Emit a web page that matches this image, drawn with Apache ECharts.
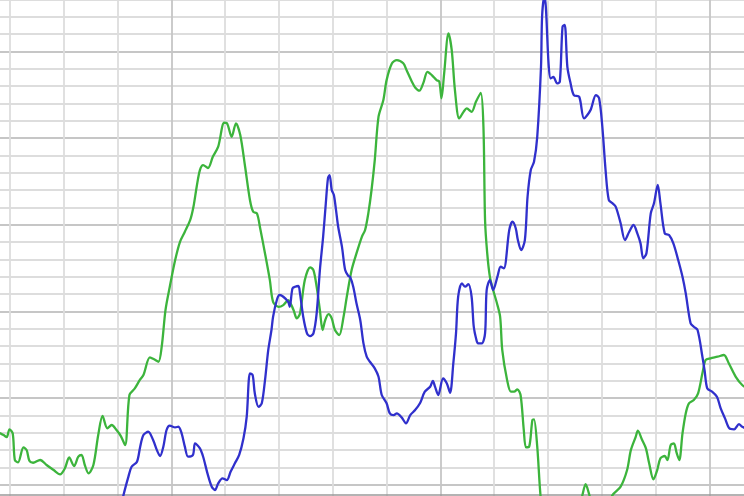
<!DOCTYPE html>
<html>
<head>
<meta charset="utf-8">
<script src="https://cdn.jsdelivr.net/npm/echarts@6/dist/echarts.min.js"></script>
<style>html,body{margin:0;padding:0;background:#fff}#c{width:744px;height:496px}</style>
</head>
<body>
<div id="c"></div>
<script>
// Green series: x positions and values
const greenX = [8.1,8.8,9.4,9.9,10.5,10.9,11.5,12.5,13.1,13.6,14.3,15.6,16.8,18.1,19.3,20.2,21.0,21.9,22.7,23.3,23.9,24.6,25.5,26.4,27.2,28.1,28.9,29.8,30.6,31.4,32.2,33.2,34.2,34.8,36.0,36.8,37.6,38.2,38.9,39.7,40.7,41.6,42.5,43.5,44.1,44.7,45.3,45.9,46.8,47.7,48.7,49.8,50.3,51.2,52.0,52.8,53.7,54.6,55.2,55.9,56.5,57.4,58.3,58.9,59.9,60.8,61.7,62.7,63.3,63.9,64.8,65.8,66.4,67.0,67.6,68.1,68.6,69.2,69.8,70.4,71.2,72.0,72.6,73.5,74.4,75.4,76.0,76.6,77.2,77.8,78.5,79.4,80.0,81.0,81.9,83.1,83.7,84.7,85.3,86.1,86.8,87.6,88.4,89.3,89.8,90.2,90.7,91.5,92.1,92.7,93.5,94.3,94.9,95.8,96.6,97.5,98.0,98.3,98.7,99.2,99.8,100.5,101.1,101.5,102.4,103.1,103.7,104.3,104.9,105.5,105.9,106.5,107.1,107.4,108.0,108.6,109.4,112.2,115.6,116.4,117.0,117.6,118.7,121.1,122.0,123.5,124.7,125.4,126.3,126.7,127.5,128.2,128.8,129.6,130.3,130.9,131.7,132.2,132.8,133.4,133.9,134.4,135.0,135.6,136.2,137.1,137.9,138.7,139.3,140.2,141.5,142.7,143.6,144.9,146.1,147.5];
const greenY = [39.8,38.6,37.4,41.9,39.6,24.2,22.8,31.5,29.9,23.8,22.6,24.2,21.3,18.4,15.9,19.4,25.7,20.7,26.1,27.1,21.3,16.5,21.3,38.6,49.6,42.5,44.4,41.5,38.0,32.8,61.7,65.5,70.7,73.2,83.4,82.3,80.9,89.6,110.7,124.2,139.6,150.1,155.9,162.7,170.3,181.9,191.5,194.4,192.7,199.2,205.0,218.8,218.6,210.7,218.5,211.7,193.4,174.2,167.4,166.5,157.9,143.4,128.0,115.5,112.6,113.6,116.5,110.7,105.9,108.8,128.0,135.4,133.8,124.2,110.7,99.2,105.0,108.4,105.9,99.2,96.3,106.9,118.4,133.8,143.4,153.0,156.9,166.5,180.0,197.3,222.3,231.9,243.4,253.1,255.0,253.1,249.2,242.5,239.2,237.3,241.5,248.2,246.3,243.4,242.5,232.9,247.3,270.4,260.8,237.7,221.3,225.1,227.1,225.1,230.9,236.1,216.5,162.7,143.6,129.9,122.3,114.8,106.9,87.6,70.3,63.6,63.6,65.0,61.7,41.5,31.5,31.9,47.3,47.7,31.9,4.0,-16,-22,-7.6,4.0,10.3,5.0,-4.7,-1.8,4.0,8.8,18.4,29.9,37.6,41.1,35.7,30.9,22.3,13.0,18.4,25.2,26.5,24.2,32.8,33.8,28.4,24.2,39.6,51.1,56.9,58.8,62.7,74.2,81.9,82.9,83.8,84.8,80.0,72.2,67.5,64.6];

// Blue series: x positions and values
const blueX = [30.1,31.1,32.0,32.6,33.6,34.2,34.8,35.7,36.6,37.3,37.9,38.5,39.1,39.7,40.7,41.3,41.9,42.5,43.1,44.0,44.4,45.3,45.9,46.7,47.5,48.1,48.7,49.5,50.3,51.0,51.8,52.6,53.4,54.0,54.6,55.1,55.5,56.2,56.8,57.4,58.0,58.6,58.9,59.6,60.1,60.8,61.7,62.0,62.5,63.0,63.6,63.9,64.5,65.2,65.8,66.4,67.0,67.6,68.2,68.7,69.1,69.4,69.8,70.2,70.6,71.0,71.7,72.3,72.9,73.2,73.8,74.4,75.1,75.7,76.3,76.9,77.8,78.5,79.1,80.0,80.6,81.3,81.9,82.8,83.6,84.4,85.3,86.2,87.1,88.1,88.6,89.0,89.6,90.5,91.2,91.8,92.4,92.9,93.3,94.0,94.6,95.2,95.8,96.2,96.7,97.0,97.7,98.3,98.6,99.2,99.8,100.6,101.2,101.8,102.8,103.4,104.0,104.4,105.0,105.7,106.2,106.8,107.4,108.0,108.7,108.9,109.3,109.6,110.1,110.5,111.0,111.7,112.2,112.7,113.1,113.6,114.2,114.8,115.8,116.7,117.9,118.9,119.5,120.1,120.7,121.3,122.0,122.6,123.5,124.3,125.1,125.9,126.6,127.2,127.7,128.3,129.1,129.7,130.4,130.9,131.7,132.5,133.3,134.2,135.0,135.6,136.5,137.1,137.8,138.7,139.1,139.6,140.5,141.4,142.1,142.9,143.7,144.6,145.5,146.1,147.5];
const blueY = [-10.4,4.0,14.5,20.3,23.2,31.9,38.6,40.5,35.7,29.9,26.5,31.9,41.5,44.0,43.0,43.4,39.6,31.9,26.1,27.1,33.8,30.9,26.1,16.5,8.8,6.9,10.7,13.6,12.6,17.4,22.3,27.1,36.7,49.2,74.2,73.2,62.7,54.9,56.9,70.3,87.6,99.2,106.9,116.5,119.4,118.4,115.5,112.6,123.2,124.2,124.6,120.4,106.9,97.3,95.7,97.3,108.8,133.8,153.0,172.3,186.7,188.6,180.0,177.1,168.4,158.8,147.3,133.8,130.3,129.9,124.2,114.6,105.0,91.5,83.8,80.9,77.1,72.2,61.7,56.9,51.1,50.1,51.1,48.8,45.4,50.1,53.0,56.9,63.6,66.5,69.9,66.5,61.7,71.3,68.4,63.0,80.0,97.3,118.4,126.1,124.2,125.7,118.4,101.1,93.4,91.5,91.5,97.3,122.3,128.0,122.3,130.0,135.7,134.8,156.9,161.7,157.9,151.1,145.3,151.1,176.1,191.5,196.3,210.7,251.1,280.0,291.5,285.7,253.1,244.4,245.3,241.5,242.5,274.2,275.2,251.1,241.5,234.8,233.8,221.3,226.1,234.8,232.9,216.5,191.5,174.2,172.3,170.3,160.8,151.1,155.9,159.8,155.0,149.2,140.6,143.5,166.5,172.3,182.9,172.3,155.0,154.0,149.2,139.6,129.9,120.4,103.1,101.1,99.2,83.8,76.1,65.5,63.6,60.7,54.0,48.2,42.5,41.9,44.9,43.4,41.5];

const pair = (xs, ys) => xs.map((x, i) => [x, ys[i]]);
const L = '#dddddd', D = '#c6c6c6';

const chart = echarts.init(document.getElementById('c'), null, {renderer: 'canvas'});
chart.setOption({
  animation: false,
  backgroundColor: '#ffffff',
  grid: [
    {left: -43.8, top: -17.96, width: 807, height: 519.9, containLabel: false, outerBoundsMode: 'none'},
    {left: 0, right: 0, top: 494, height: 1, outerBoundsMode: 'none'}
  ],
  xAxis: [
    {type: 'value', gridIndex: 0, min: 0, max: 150, interval: 10,
     axisLabel: {show: false}, axisTick: {show: false}, axisLine: {show: false},
     splitLine: {show: true, lineStyle: {color: [L, L, L, L, D], width: 1.8}}},
    {type: 'value', gridIndex: 1, min: 0, max: 1,
     axisLabel: {show: false}, axisTick: {show: false},
     axisLine: {show: true, lineStyle: {color: '#9a9a9a', width: 1.5}},
     splitLine: {show: false}}
  ],
  yAxis: [
    {type: 'value', gridIndex: 0, min: 0, max: 300, interval: 10,
     axisLabel: {show: false}, axisTick: {show: false}, axisLine: {show: false},
     splitLine: {show: true, lineStyle: {color: [L, D, L, L, L], width: 1.8}}},
    {type: 'value', gridIndex: 1, min: 0, max: 1, show: false}
  ],
  series: [
    {type: 'line', name: 'green', data: pair(greenX, greenY), showSymbol: false, smooth: 0.3,
     clip: true, lineStyle: {color: '#3cb43c', width: 2.3}, itemStyle: {color: '#3cb43c'}},
    {type: 'line', name: 'blue', data: pair(blueX, blueY), showSymbol: false, smooth: 0.3,
     clip: true, lineStyle: {color: '#3030cc', width: 2.3}, itemStyle: {color: '#3030cc'}}
  ]
});
</script>
</body>
</html>
